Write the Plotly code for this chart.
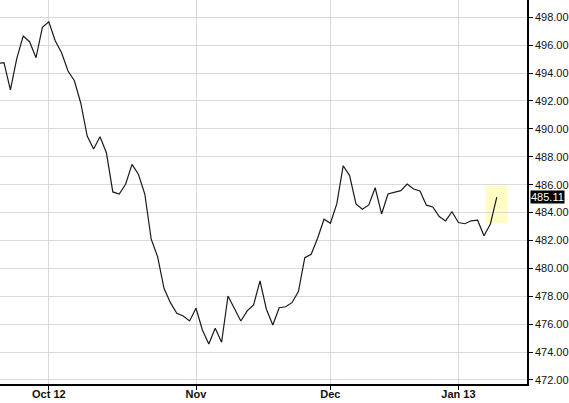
import plotly.graph_objects as go

# Daily closing values (trading-day sequence, Sep 2012 - Jan 2013)
closes = [
    494.70, 494.75, 492.79, 495.06, 496.66, 496.25, 495.10, 497.28, 497.68, 496.32,
    495.46, 494.15, 493.45, 491.84, 489.49, 488.56, 489.44, 488.29, 485.48, 485.33,
    486.03, 487.46, 486.75, 485.33, 482.09, 480.84, 478.57, 477.54, 476.78, 476.59,
    476.23, 477.14, 475.58, 474.58, 475.71, 474.70, 478.02, 477.18, 476.23, 476.95,
    477.38, 479.10, 477.07, 475.94, 477.18, 477.25, 477.54, 478.33, 480.77, 481.01,
    482.16, 483.52, 483.23, 484.62, 487.36, 486.65, 484.62, 484.24, 484.55, 485.78,
    483.90, 485.33, 485.46, 485.57, 486.05, 485.69, 485.55, 484.53, 484.40, 483.72,
    483.40, 484.06, 483.29, 483.20, 483.41, 483.45, 482.34, 483.18, 485.11,
]
day_index = list(range(-1, len(closes) - 1))

month_tick_days = [7, 30, 51, 71]
month_tick_labels = ["Oct 12", "Nov", "Dec", "Jan 13"]
last_value = closes[-1]

fig = go.Figure()
fig.add_trace(go.Scatter(
    x=day_index, y=closes, mode="lines",
    line=dict(color="#1a1a1a", width=1.2),
    hoverinfo="skip", showlegend=False,
))

fig.add_shape(type="rect", xref="x", yref="y",
              x0=75.2, x1=78.7, y0=483.23, y1=485.93,
              fillcolor="#fffcc4", line=dict(width=0), layer="below")

fig.add_annotation(xref="paper", yref="y", x=1, y=last_value,
                   text="485.11", showarrow=False, xanchor="left", yanchor="middle",
                   xshift=3, bgcolor="black", borderpad=0,
                   font=dict(color="white", size=11, family="Liberation Sans, Arial"))

fig.update_layout(
    width=569, height=403,
    margin=dict(l=0, r=42, t=0, b=19, autoexpand=False),
    paper_bgcolor="white", plot_bgcolor="white",
    font=dict(family="Liberation Sans, Arial", size=11, color="black"),
    showlegend=False,
)
fig.update_xaxes(
    range=[-0.625, 81.72],
    tickmode="array", tickvals=month_tick_days, ticktext=month_tick_labels,
    tickfont=dict(size=11, weight="bold", color="#111"),
    showgrid=True, gridcolor="#d9d9d9", gridwidth=1,
    showline=True, linecolor="black", linewidth=1.5,
    ticks="outside", ticklen=4, tickcolor="black", ticklabelstandoff=-5,
    zeroline=False, fixedrange=True, automargin=False,
)
fig.update_yaxes(
    side="right", range=[471.71, 499.24],
    tickmode="linear", tick0=472, dtick=2, tickformat=".2f",
    tickfont=dict(size=11, color="#111"),
    showgrid=True, gridcolor="#d9d9d9", gridwidth=1,
    showline=True, linecolor="black", linewidth=1.5,
    ticks="outside", ticklen=4, tickcolor="black",
    zeroline=False, fixedrange=True, automargin=False,
)

fig.write_html("out.html", config={"displayModeBar": False},
               post_script="document.body.style.margin='0';document.body.style.overflow='hidden';")
